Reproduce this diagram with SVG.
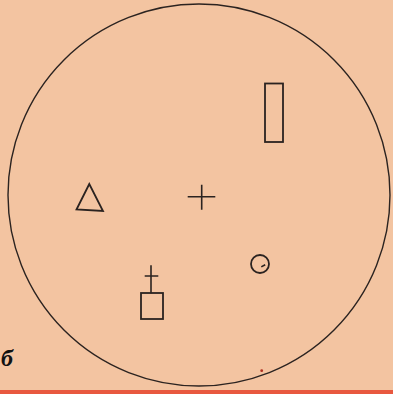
<svg xmlns="http://www.w3.org/2000/svg" width="393" height="394" viewBox="0 0 393 394">
<style>
.ln{fill:none;stroke:#2b2320;stroke-width:1.6;stroke-linecap:square}
.fig{fill:none;stroke:#2b2320;stroke-width:1.8}
</style>
<rect x="0" y="0" width="393" height="394" fill="#f3c4a1"/>
<rect x="0" y="390" width="393" height="4" fill="#e8583f"/>
<g id="field">
<circle cx="199" cy="195" r="191" fill="none" stroke="#2b2320" stroke-width="1.4"/>
</g>
<g id="rectangle"><rect class="fig" x="265" y="83.5" width="18" height="58.5"/></g>
<g id="triangle"><polygon class="fig" points="89.3,184 76.5,209.5 103,211"/></g>
<g id="center-cross"><path class="ln" d="M188.5,196.7H214.5M201.7,185.5V209"/></g>
<g id="small-circle"><circle class="fig" cx="260" cy="264" r="9"/><path class="ln" d="M262,266.5L264.5,265.2" stroke-width="1.2"/></g>
<g id="square-cross"><path class="ln" d="M145.5,276H157.5M151,266V292.5" stroke-width="1.4"/><rect class="fig" x="141" y="293" width="22" height="26"/></g>
<circle cx="261.7" cy="370.7" r="1.4" fill="#b03020"/>
<text x="1" y="366" font-family="Liberation Serif, serif" font-size="24" font-weight="bold" font-style="italic" fill="#111">б</text>
</svg>
